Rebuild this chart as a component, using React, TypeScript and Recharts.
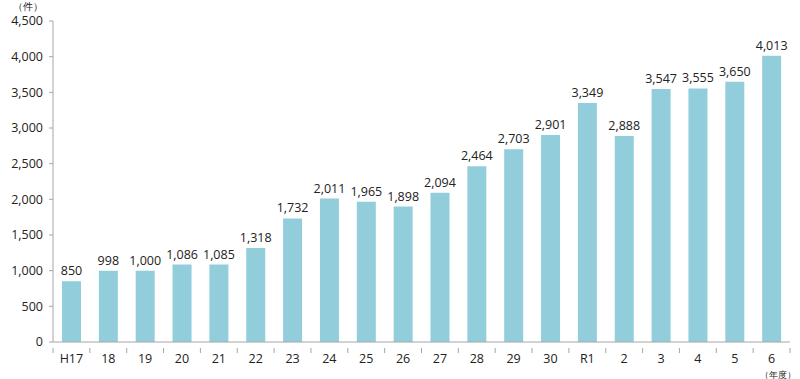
import React from 'react';
import { BarChart, Bar, XAxis, YAxis, LabelList } from 'recharts';

const categories = ['H17','18','19','20','21','22','23','24','25','26','27','28','29','30','R1','2','3','4','5','6'];
const counts = [850, 998, 1000, 1086, 1085, 1318, 1732, 2011, 1965, 1898, 2094, 2464, 2703, 2901, 3349, 2888, 3547, 3555, 3650, 4013];
const yTicks = [0, 500, 1000, 1500, 2000, 2500, 3000, 3500, 4000, 4500];

const data = categories.map((c, i) => ({ name: c, value: counts[i] }));

const FONT = "'Open Sans', 'Noto Sans', sans-serif";
const AXIS = '#a6a6a6';

const W = 800;
const H = 379;
const LEFT = 53;
const RIGHT = 10;
const band = (W - LEFT - RIGHT) / categories.length;

const XTick = (props: any) => {
  const { x, y, payload, index } = props;
  const last = index === categories.length - 1;
  return (
    <g>
      <line x1={x - band / 2} x2={x - band / 2} y1={y - 2} y2={y + 3} stroke={AXIS} />
      {last && <line x1={x + band / 2} x2={x + band / 2} y1={y - 2} y2={y + 3} stroke={AXIS} />}
      <text x={x} y={y + 13} textAnchor="middle" fontSize={12.5} fill="#222" fontFamily={FONT}>{payload.value}</text>
    </g>
  );
};

export default function App() {
  return (
    <div style={{ position: 'absolute', left: 0, top: 0, width: W, height: H, fontFamily: FONT }}>
      <BarChart width={W} height={H} data={data} margin={{ top: 21, right: RIGHT, bottom: 0, left: 0 }} barCategoryGap={0}>
        <XAxis dataKey="name" height={37} axisLine={{ stroke: AXIS }} tickLine={false} tick={<XTick />} interval={0} />
        <YAxis width={LEFT} domain={[0, 4500]} ticks={yTicks} axisLine={{ stroke: AXIS }} tickLine={{ stroke: AXIS }} tickSize={4} tickMargin={6}
          tick={{ fontSize: 12.5, fill: '#222', fontFamily: FONT }} tickFormatter={(v: number) => v.toLocaleString('en-US')} />
        <Bar dataKey="value" fill="#92CDDC" barSize={19} isAnimationActive={false}>
          <LabelList dataKey="value" position="top" offset={6} fontSize={12.5} fill="#222" fontFamily={FONT}
            formatter={(v: any) => Number(v).toLocaleString('en-US')} />
        </Bar>
        <text x={28} y={10} textAnchor="middle" fontSize={9.5} fill="#222" fontFamily={FONT}>（件）</text>
        <text x={778} y={377.5} textAnchor="middle" fontSize={8.5} fill="#222" fontFamily={FONT}>（年度）</text>
      </BarChart>
    </div>
  );
}
